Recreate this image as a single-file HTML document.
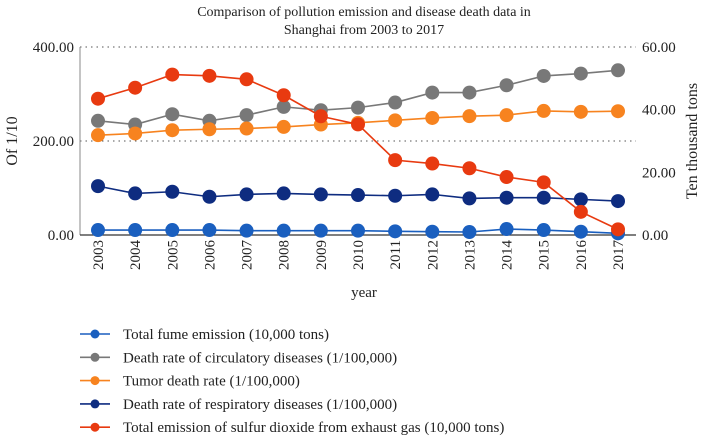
<!DOCTYPE html>
<html><head><meta charset="utf-8"><style>
body{margin:0;background:#fff;}
svg text{font-family:"Liberation Serif",serif;fill:#222;}
</style></head><body>
<svg id="c" width="701" height="437" viewBox="0 0 701 437">
<text x="364" y="16" text-anchor="middle" font-size="14">Comparison of pollution emission and disease death data in</text>
<text x="364" y="34" text-anchor="middle" font-size="14">Shanghai from 2003 to 2017</text>
<g id="axes"></g><g id="series"></g><g id="legend"></g>
</svg>
<script>
const years=["2003","2004","2005","2006","2007","2008","2009","2010","2011","2012","2013","2014","2015","2016","2017"];
const leftTicks=[0,200,400];
const rightTicks=[0,20,40,60];
const fume=[10.6,10.6,10.6,10.6,9.2,9.2,9.2,9.2,7.8,7,6.4,12.7,10.6,7,3.5];
const circulatory=[243,235,257,243,255,272.6,265.5,271,281.8,303,303,318.6,338.4,343.4,350.4];
const tumor=[212.4,216,223,225,226.5,230,235,238.6,244,249,252.8,255,264,262,263.4];
const respiratory=[104,88.5,92,81.4,86.4,88.5,86.4,85,83.5,86.4,77.9,79.3,79.3,75.8,72.2];
const so2=[43.5,47,51.2,50.8,49.7,44.6,37.9,35.3,23.9,22.8,21.3,18.5,16.8,7.4,1.8];
const seriesNames=["Total fume emission (10,000 tons)","Death rate of circulatory diseases (1/100,000)","Tumor death rate (1/100,000)","Death rate of respiratory diseases (1/100,000)","Total emission of sulfur dioxide from exhaust gas (10,000 tons)"];
const colors=["#1a5fbf","#787878","#f7831f","#0e2c80","#e83a10"];
const NS="http://www.w3.org/2000/svg";
const X0=80,X1=636,Y0=235,Y1=47;
const xs=i=>98+i*(618-98)/(years.length-1);
const yl=v=>Y0-(v/400)*(Y0-Y1);
const yr=v=>Y0-(v/60)*(Y0-Y1);
function mk(t,a,p){const e=document.createElementNS(NS,t);for(const k in a)e.setAttribute(k,a[k]);p.appendChild(e);return e;}
const ax=document.getElementById('axes');
leftTicks.forEach(v=>{
 if(v>0){const g=mk('line',{x1:X0,x2:X1,y1:yl(v),y2:yl(v),stroke:'#555','stroke-dasharray':'1.5,4','stroke-width':1},ax);
 
 }
 const t=mk('text',{x:X0-6,y:yl(v)+5,'text-anchor':'end','font-size':15},ax);t.textContent=v.toFixed(2);
 
 
});
rightTicks.forEach(v=>{
 const t=mk('text',{x:X1+6,y:yr(v)+5,'font-size':15},ax);t.textContent=v.toFixed(2);
 
 
});
let l=mk('line',{x1:X0,x2:X0,y1:Y1,y2:Y0,stroke:'#888','stroke-width':1},ax);


l=mk('line',{x1:X0,x2:X1,y1:Y0,y2:Y0,stroke:'#333','stroke-width':1.2},ax);


years.forEach((y,i)=>{
 const t=mk('text',{x:0,y:0,'font-size':15,'text-anchor':'end',transform:`translate(${xs(i)+5},${Y0+5}) rotate(-90)`},ax);t.textContent=y;
 
 
});
let t=mk('text',{x:364,y:297,'text-anchor':'middle','font-size':15},ax);t.textContent='year';


t=mk('text',{x:0,y:0,'text-anchor':'middle','font-size':16,transform:'translate(17,141) rotate(-90)'},ax);t.textContent='Of 1/10';


t=mk('text',{x:0,y:0,'text-anchor':'middle','font-size':16,transform:'translate(697,141) rotate(-90)'},ax);t.textContent='Ten thousand tons';


const sg=document.getElementById('series');
const data=[[fume,yl],[circulatory,yl],[tumor,yl],[respiratory,yl],[so2,yr]];
data.forEach(([arr,sc],k)=>{
 const g=mk('g',{},sg);
 
 
 const p=mk('polyline',{points:arr.map((v,i)=>xs(i)+','+sc(v)).join(' '),fill:'none',stroke:colors[k],'stroke-width':1.6},g);
 
 
 arr.forEach((v,i)=>{const c=mk('circle',{cx:xs(i),cy:sc(v),r:7,fill:colors[k]},g);
 
 });
});
const lg=document.getElementById('legend');
seriesNames.forEach((n,k)=>{
 const y=334+k*23.3;
 const g=mk('g',{},lg);
 
 
 mk('line',{x1:80,x2:110,y1:y,y2:y,stroke:colors[k],'stroke-width':1.6},g);
 mk('circle',{cx:95,cy:y,r:4.5,fill:colors[k]},g);
 const tt=mk('text',{x:123,y:y+5,'font-size':15},g);tt.textContent=n;
});
</script>
</body></html>
